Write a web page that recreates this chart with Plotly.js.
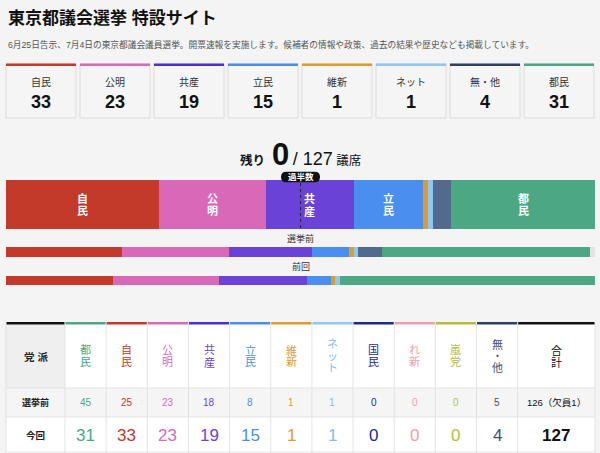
<!DOCTYPE html>
<html><head><meta charset="utf-8">
<script src="https://cdn.plot.ly/plotly-3.0.1.min.js"></script>
<style>html,body{margin:0;padding:0;background:#f4f4f4;} #chart{width:600px;height:453px;}</style>
</head><body><div id="chart"></div>
<script>
// ---- data ----
const barParties  = ['自民','公明','共産','立民','維新','ネット','無・他','都民','欠員'];
const seatsNow    = [33,23,19,15,1,1,4,31,0];
const seatsBefore = [25,23,18,8,1,1,5,45,1];
const seatsPrev   = [23,23,19,5,1,1,0,55,0];
const barRowLabels = ['今回','選挙前','前回'];
const totalSeats = 127;
const majority = 64;
const remaining = 0;

const cardParties = ['自民','公明','共産','立民','維新','ネット','無・他','都民'];
const cardSeats   = [33,23,19,15,1,1,4,31];

const tableParties = ['都民','自民','公明','共産','立民','維新','ネット','国民','れ新','嵐党','無・他'];
const tableBefore  = [45,25,23,18,8,1,1,0,0,0,5];
const tableNow     = [31,33,23,19,15,1,1,0,0,0,4];
const totalBeforeLabel = '126（欠員1）';
const totalNow = 127;

const titleText = '東京都議会選挙 特設サイト';
const subText = '6月25日告示、7月4日の東京都議会議員選挙。開票速報を実施します。候補者の情報や政策、過去の結果や歴史なども掲載しています。';

// ---- styles ----
const colors = {'自民':'#c3392a','公明':'#da68b8','共産':'#6b42d8','立民':'#4a8ff0','維新':'#e09b2d','ネット':'#8dc8f2','無・他':'#526a8c','都民':'#4ba784','欠員':'#e3e3e3','国民':'#1b2a8c','れ新':'#eba1aa','嵐党':'#b5bd3a'};
const accent = Object.assign({}, colors, {'共産':'#4a2fd4','無・他':'#2d4262','合計':'#111','党派':'#111'});
const textCol = Object.assign({}, colors, {'無・他':'#3e5274','ネット':'#7fbdea'});
const FONT = "'Liberation Sans', 'Noto Sans CJK JP', sans-serif";
const W = 600, H = 453;
const X = p => p / W;
const BX0 = 6, BX1 = 595;
const sx = s => BX0 + s * (BX1 - BX0) / totalSeats;

const traces = barParties.map((p, i) => ({
  type: 'bar', orientation: 'h', name: p,
  x: [seatsNow[i], seatsBefore[i], seatsPrev[i]],
  y: [204, 252, 280.4],
  width: [49, 9.5, 9.5],
  marker: {color: colors[p], line: {width: 0}},
  hoverinfo: 'skip'
}));

const shapes = [];
const annotations = [];
function ann(x, y, text, size, color, extra) {
  annotations.push(Object.assign({
    xref: 'paper', yref: 'y', x: X(x), y: y, text: text, showarrow: false,
    xanchor: 'center', yanchor: 'middle',
    font: {family: FONT, size: size, color: color}
  }, extra || {}));
}
function rect(x0, y0, x1, y1, fill, line, lw, layer) {
  shapes.push({type: 'rect', xref: 'paper', yref: 'y', x0: X(x0), x1: X(x1), y0: y0, y1: y1,
    fillcolor: fill, line: {color: line || fill, width: lw || 0}, layer: layer || 'below'});
}
function hline(x0, x1, y, col, w) {
  shapes.push({type: 'line', xref: 'paper', yref: 'y', x0: X(x0), x1: X(x1), y0: y, y1: y, line: {color: col, width: w || 1}, layer: 'below'});
}
function vline(x, y0, y1, col, w) {
  shapes.push({type: 'line', xref: 'paper', yref: 'y', x0: X(x), x1: X(x), y0: y0, y1: y1, line: {color: col, width: w || 1}, layer: 'below'});
}

// header
ann(6, 18, '<b>' + titleText + '</b>', 17, '#111', {xanchor: 'left'});
ann(6, 44, subText, 8.7, '#555', {xanchor: 'left'});

// cards
cardParties.forEach((p, i) => {
  const x0 = 6 + i * 74, x1 = x0 + 70;
  rect(x0, 64, x1, 118, '#f5f5f5', '#dcdcdc', 1);
  rect(x0, 63.5, x1, 66, accent[p]);
  ann((x0 + x1) / 2, 82, p, 10, '#333');
  ann((x0 + x1) / 2, 101.5, '<b>' + cardSeats[i] + '</b>', 18, '#111');
});

// remaining
ann(300.5, 154, '<b>残り</b>  <span style="font-size:31px"><b>' + remaining + '</b></span> <span style="font-size:18px">/ ' + totalSeats + '</span> 議席', 12.5, '#111');

// main bar labels
let cum = 0;
barParties.forEach((p, i) => {
  const v = seatsNow[i];
  if (v >= 10) {
    const cx = sx(cum + v / 2);
    Array.from(p).forEach((ch, j) => ann(cx, 198.5 + j * 12.5, '<b>' + ch + '</b>', 11, '#fff'));
  }
  cum += v;
});

// majority marker
const mx = sx(totalSeats / 2);
shapes.push({type: 'line', xref: 'paper', yref: 'y', x0: X(mx), x1: X(mx), y0: 183, y1: 228, line: {color: '#222', width: 1, dash: 'dot'}, layer: 'above'});
(function pill() {
  const x0 = mx - 19.5, x1 = mx + 19.5, y0 = 171.7, y1 = 182.3, r = 5.3;
  const path = `M ${X(x0 + r)} ${y0} L ${X(x1 - r)} ${y0} Q ${X(x1)} ${y0} ${X(x1)} ${y0 + r} Q ${X(x1)} ${y1} ${X(x1 - r)} ${y1} L ${X(x0 + r)} ${y1} Q ${X(x0)} ${y1} ${X(x0)} ${y1 - r} Q ${X(x0)} ${y0} ${X(x0 + r)} ${y0} Z`;
  shapes.push({type: 'path', xref: 'paper', yref: 'y', path: path, fillcolor: '#111', line: {width: 0}, layer: 'above'});
  ann(mx, 177, '<b>過半数</b>', 8.5, '#fff');
})();

// bar row labels
ann(300.5, 238.5, barRowLabels[1], 9, '#333');
ann(300.5, 266.5, barRowLabels[2], 9, '#333');

// table
const tTop = 324, tHead = 388, tRow1 = 417, tBot = 453;
const colX = [6, 65];
for (let k = 1; k <= tableParties.length; k++) colX.push(65 + k * 41.15);
colX.push(595);
rect(6, tTop, 595, tBot, '#ffffff');
rect(6, tTop, 65, tHead, '#efefef');
rect(6, tHead, 595, tRow1, '#f5f5f5');
colX.forEach(x => vline(x, tTop, tBot, '#e3e3e3', 1));
hline(6, 595, tHead, '#e3e3e3', 1);
hline(6, 595, tRow1, '#e3e3e3', 1);
hline(6, 595, 452, '#e3e3e3', 1);
const headNames = ['党派'].concat(tableParties, ['合計']);
headNames.forEach((p, c) => {
  rect(colX[c] + 0.5, 322, colX[c + 1] - 0.5, 324.5, accent[p]);
});
ann(35.5, 357, '<b>党 派</b>', 10.5, '#222');
ann(35.5, 402.5, '<b>' + barRowLabels[1] + '</b>', 9, '#222');
ann(35.5, 435, '<b>' + barRowLabels[0] + '</b>', 9.5, '#222');
tableParties.forEach((p, i) => {
  const cx = (colX[i + 1] + colX[i + 2]) / 2;
  const chars = Array.from(p);
  chars.forEach((ch, j) => ann(cx, 356 + (j - (chars.length - 1) / 2) * 12, ch, 11, textCol[p]));
  ann(cx, 402.5, String(tableBefore[i]), 10, textCol[p]);
  ann(cx, 435, String(tableNow[i]), 17, textCol[p]);
});
const tcx = (colX[colX.length - 2] + colX[colX.length - 1]) / 2;
Array.from('合計').forEach((ch, j) => ann(tcx, 350.5 + j * 12, ch, 11, '#111'));
ann(tcx, 402.5, totalBeforeLabel, 9.5, '#111');
ann(tcx, 435, '<b>' + totalNow + '</b>', 17, '#111');

const layout = {
  width: W, height: H, margin: {l: 0, r: 0, t: 0, b: 0, pad: 0},
  paper_bgcolor: '#f4f4f4', plot_bgcolor: 'rgba(0,0,0,0)',
  barmode: 'stack', showlegend: false, hovermode: false,
  xaxis: {domain: [X(BX0), X(BX1)], range: [0, totalSeats], visible: false, fixedrange: true},
  yaxis: {domain: [0, 1], range: [H, 0], visible: false, fixedrange: true},
  shapes: shapes, annotations: annotations,
  font: {family: FONT}
};
Plotly.newPlot('chart', traces, layout, {displayModeBar: false, staticPlot: true});
</script></body></html>
